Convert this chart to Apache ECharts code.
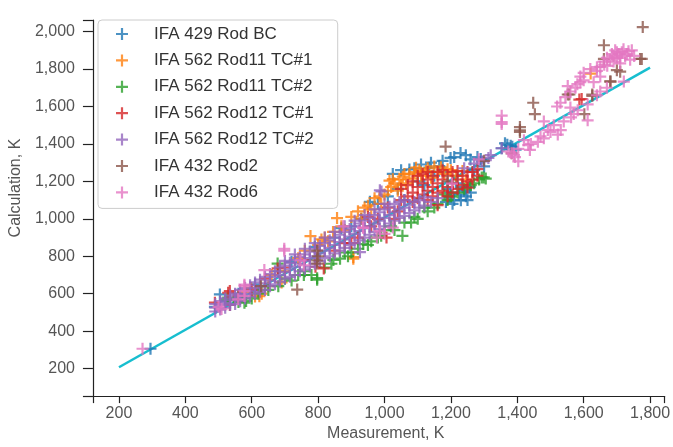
<!DOCTYPE html>
<html>
<head>
<meta charset="utf-8">
<script src="https://cdn.jsdelivr.net/npm/echarts@6/dist/echarts.min.js"></script>
<style>html,body{margin:0;padding:0;background:#fff}#c{width:673px;height:447px}</style>
</head>
<body>
<div id="c"></div>
<script>
const seriesNames = ["IFA 429 Rod BC","IFA 562 Rod11 TC#1","IFA 562 Rod11 TC#2","IFA 562 Rod12 TC#1","IFA 562 Rod12 TC#2","IFA 432 Rod2","IFA 432 Rod6"];
const xTicks = [200,400,600,800,1000,1200,1400,1600,1800];
const yTicks = [200,400,600,800,1000,1200,1400,1600,1800,2000];
const fitLine = [[200,207],[1800,1808]];

const rod429BC = [[295,306],[504,596],[489,530],[520,560],[560,600],[610,650],[680,720],[720,770],[790,850],[850,900],[900,960],[956,1091],[980,1080],[1010,1120],[1040,1160],[1075,1264],[1100,1200],[1135,1273],[1165,1282],[1150,1230],[1180,1250],[1199,1325],[1229,1351],[1259,1317],[1215,1190],[1230,1099],[1245,1120],[1240,1150],[1257,1170],[1200,1140],[1210,1100],[1190,1160],[1220,1230],[1270,1260],[1300,1280],[1363,1403],[1353,1377],[1380,1390],[1395,1370],[1280,1330],[1120,1180],[1060,1100],[930,1000],[870,950],[1185,1090],[1195,1120],[1205,1080],[1225,1130],[1250,1100],[1235,1170],[1260,1140],[1090,1270],[1110,1290],[1050,1260],[1025,1240],[1140,1300],[1175,1310],[1210,1330],[1245,1340],[1290,1320],[1370,1395],[1385,1385]];
const rod11TC1 = [[548,570],[598,631],[623,587],[650,640],[700,720],[740,790],[777,908],[800,860],[830,880],[857,1004],[880,940],[906,796],[906,787],[930,1000],[960,1050],[990,1080],[1015,1204],[1025,1212],[1040,1150],[1065,1190],[1075,1240],[1095,1273],[1110,1230],[1125,1255],[1140,1220],[1160,1250],[1180,1240],[1200,1260],[1215,1230],[1235,1255],[1245,1210],[1050,1180],[1085,1215],[1000,1130],[970,1110],[950,1070],[820,900],[760,830],[660,700],[580,610],[1621,1776],[1150,1280],[1060,1240],[1020,1170],[1030,1190],[1045,1210],[1055,1225],[1090,1250],[1105,1260],[1130,1270],[1170,1275],[1190,1265],[1010,1150],[985,1120],[940,1060],[920,1040],[900,1010],[870,960],[845,930],[810,890],[630,600],[610,585],[690,660]];
const rod11TC2 = [[524,570],[529,579],[583,561],[578,552],[620,600],[650,620],[678,761],[700,680],[740,700],[757,700],[797,683],[797,675],[820,740],[846,780],[866,787],[900,820],[936,865],[960,880],[1000,940],[1054,909],[1080,980],[1100,1000],[1130,1040],[1160,1080],[1200,1120],[1240,1160],[1270,1190],[1293,1221],[1299,1221],[1305,1215],[1180,1130],[1020,960],[880,820],[760,720],[640,640],[560,580],[1120,1060],[980,900],[560,555],[600,575],[680,640],[720,670],[780,700],[840,760],[890,800],[920,840],[950,860],[990,910],[1030,940],[1060,980],[1090,1010],[1150,1060],[1190,1100],[1220,1140],[1260,1180],[1285,1210]];
const rod12TC1 = [[1050,1100],[1050,1160],[1070,1120],[1070,1180],[1085,1140],[1085,1200],[1085,1090],[1100,1110],[1100,1170],[1100,1230],[1115,1130],[1115,1190],[1115,1240],[1130,1100],[1130,1150],[1130,1210],[1130,1250],[1145,1120],[1145,1170],[1145,1230],[1160,1073],[1160,1140],[1160,1190],[1160,1250],[1175,1150],[1175,1210],[1175,1260],[1190,1120],[1190,1170],[1190,1230],[1205,1140],[1205,1190],[1205,1250],[1220,1160],[1220,1210],[1220,1255],[1235,1180],[1235,1230],[1250,1167],[1250,1200],[1250,1250],[1265,1210],[1265,1250],[1280,1230],[1280,1265],[489,552],[534,540],[534,614],[529,605],[560,590],[600,620],[640,680],[678,735],[700,740],[760,780],[792,744],[817,735],[850,830],[880,870],[920,900],[960,960],[1006,900],[1030,1000],[980,1000],[1010,1060],[1040,1040],[1587,1637],[1594,1640],[950,1010],[900,870]];
const rod12TC2 = [[490,505],[490,525],[490,545],[505,515],[505,540],[505,560],[520,525],[520,550],[520,575],[535,540],[535,565],[535,590],[550,545],[550,575],[550,600],[565,560],[565,590],[565,620],[580,575],[580,600],[580,630],[595,585],[595,615],[595,645],[610,600],[610,630],[610,660],[625,610],[625,640],[625,675],[640,620],[640,655],[640,690],[655,640],[655,670],[655,705],[670,650],[670,690],[670,720],[685,665],[685,700],[685,740],[700,680],[700,715],[700,750],[700,775],[715,690],[715,730],[715,765],[730,700],[730,745],[730,780],[730,810],[745,720],[745,760],[745,795],[760,730],[760,775],[760,810],[760,840],[775,745],[775,790],[775,825],[790,760],[790,800],[790,840],[790,870],[805,775],[805,815],[805,855],[820,790],[820,830],[820,870],[820,900],[835,800],[835,845],[835,885],[850,815],[850,860],[850,900],[850,930],[865,830],[865,875],[865,915],[880,845],[880,890],[880,930],[880,960],[895,860],[895,905],[895,945],[910,870],[910,920],[910,960],[910,990],[925,885],[925,935],[925,975],[940,900],[940,950],[940,990],[940,1020],[955,915],[955,960],[955,1005],[970,930],[970,975],[970,1020],[970,1050],[985,945],[985,990],[985,1035],[1000,960],[1000,1005],[1000,1050],[1000,1080],[1015,975],[1015,1020],[1015,1065],[1030,990],[1030,1035],[1030,1080],[1045,1005],[1045,1050],[1045,1090],[1060,1015],[1060,1060],[1060,1100],[1075,1030],[1075,1075],[1090,1045],[1090,1090],[1105,1060],[1105,1100],[1120,1070],[1120,1115],[1140,1090],[1160,1110],[986,1152],[991,1146],[926,822],[1293,1307],[1313,1325],[1353,1377],[1320,1340],[1270,1295],[1240,1270]];
const rod2_432 = [[628,640],[737,622],[797,761],[797,778],[797,830],[800,800],[1184,1386],[1408,1473],[1408,1464],[1408,1490],[1448,1620],[1453,1559],[1557,1664],[1552,1664],[1602,1559],[1626,1657],[1626,1664],[1661,1927],[1661,1854],[1680,1734],[1681,1733],[1700,1794],[1710,1786],[1770,1854],[1775,1854],[1778,2024],[1383,1350],[1190,1200],[1300,1310]];
const rod6_432 = [[271,306],[509,518],[500,530],[559,570],[578,588],[578,614],[578,640],[578,648],[638,726],[698,830],[698,840],[747,778],[757,752],[876,960],[935,953],[936,952],[977,900],[986,934],[1000,920],[1025,953],[1203,1188],[1284,1318],[1353,1516],[1353,1551],[1353,1507],[1373,1360],[1383,1350],[1393,1330],[1403,1307],[1403,1374],[1390,1340],[1433,1394],[1438,1368],[1441,1400],[1462,1411],[1470,1440],[1480,1430],[1492,1474],[1500,1464],[1510,1500],[1522,1450],[1531,1474],[1540,1520],[1552,1709],[1560,1594],[1562,1542],[1570,1560],[1582,1580],[1581,1719],[1590,1760],[1600,1740],[1612,1611],[1612,1526],[1620,1800],[1630,1730],[1640,1790],[1650,1812],[1662,1823],[1671,1817],[1680,1850],[1690,1870],[1700,1890],[1710,1860],[1720,1906],[1730,1880],[1740,1850],[1752,1870],[1745,1900],[1710,1830],[1690,1840],[1650,1760],[1520,1600],[1480,1520],[1420,1420],[1650,1680],[1670,1700],[1640,1660],[1721,1733],[1685,1880],[1695,1900],[1705,1880],[1715,1890],[1725,1870],[1735,1895],[1700,1860],[1660,1840],[1670,1860],[1640,1810],[1600,1780],[1590,1730],[1575,1700],[1560,1680],[1545,1650],[1530,1620]];

const seriesData = [rod429BC, rod11TC1, rod11TC2, rod12TC1, rod12TC2, rod2_432, rod6_432];
const colors = ["#1f77b4","#ff7f0e","#2ca02c","#d62728","#9467bd","#8c564b","#e377c2"];
const plus = 'path://M4.9,0h2.2v4.9h4.9v2.2h-4.9v4.9h-2.2v-4.9h-4.9v-2.2h4.9z';
const fmt = v => v.toLocaleString('en-US');
const FONT = '"Liberation Sans", Arial, sans-serif';

const xMin = 121.6, xMax = 1844, yMin = 53, yMax = 2062;

const chart = echarts.init(document.getElementById('c'), null, {renderer: 'canvas'});
const series = [{
  name: 'fit', type: 'line', data: fitLine, symbol: 'none',
  lineStyle: {color: '#17becf', width: 2.5}, z: 1, silent: true
}];
seriesNames.forEach((n, i) => series.push({
  name: n, type: 'scatter', data: seriesData[i],
  symbol: plus, symbolSize: 12,
  itemStyle: {color: colors[i], opacity: 0.8},
  z: 2 + i, silent: true
}));

chart.setOption({
  animation: false,
  textStyle: {fontFamily: FONT},
  grid: {left: 90, right: 5, top: 20, bottom: 41, containLabel: false},
  legend: {
    data: seriesNames, orient: 'vertical', left: 98, top: 20,
    icon: plus, itemWidth: 12, itemHeight: 12, itemGap: 6.4,
    padding: [4, 24, 6, 18],
    backgroundColor: '#fff', borderColor: '#ccc', borderWidth: 1, borderRadius: 4,
    textStyle: {fontSize: 17, color: '#333', fontFamily: FONT, lineHeight: 20, padding: [0, 0, 0, 21]},
    selectedMode: false
  },
  xAxis: {
    type: 'value', min: xMin, max: xMax,
    name: 'Measurement, K', nameLocation: 'middle', nameGap: 27,
    nameTextStyle: {fontSize: 16, color: '#555', fontFamily: FONT, padding: [0, 0, 0, 14]},
    axisLine: {show: true, onZero: false, lineStyle: {color: '#222', width: 1.2}},
    axisTick: {show: true, length: 7, customValues: [xMin].concat(xTicks, [xMax]), lineStyle: {color: '#222', width: 1.2}},
    axisLabel: {customValues: xTicks, formatter: fmt, fontSize: 16, color: '#555', margin: 9, fontFamily: FONT},
    splitLine: {show: false}
  },
  yAxis: {
    type: 'value', min: yMin, max: yMax,
    name: 'Calculation, K', nameLocation: 'middle', nameGap: 60, nameRotate: 90,
    nameTextStyle: {fontSize: 16, color: '#555', fontFamily: FONT, padding: [0, 0, 0, 40]},
    axisLine: {show: true, onZero: false, lineStyle: {color: '#222', width: 1.2}},
    axisTick: {show: true, length: 10, customValues: [yMin].concat(yTicks, [yMax]), lineStyle: {color: '#222', width: 1.2}},
    axisLabel: {customValues: yTicks, formatter: fmt, fontSize: 16, color: '#555', margin: 18, fontFamily: FONT},
    splitLine: {show: false}
  },
  series: series
});
</script>
</body>
</html>
